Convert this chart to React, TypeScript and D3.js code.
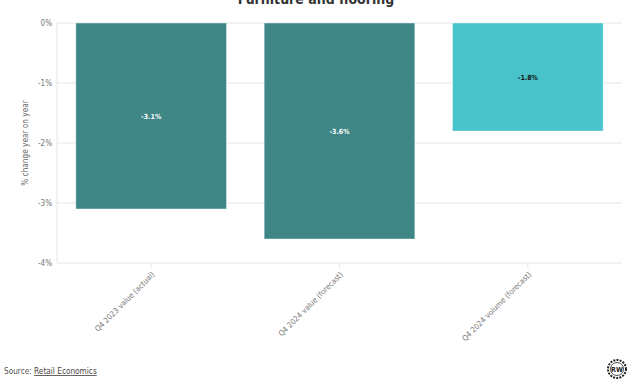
import React from "react";
import * as d3 from "d3";

const categories = ["Q4 2023 value (actual)", "Q4 2024 value (forecast)", "Q4 2024 volume (forecast)"];
const values = [-3.1, -3.6, -1.8];
const barColors = ["#3b8484", "#3b8484", "#44c2c9"];
const labelColors = ["#ffffff", "#ffffff", "#111111"];
const yTicks = [0, -1, -2, -3, -4];
const title = "Furniture and flooring";
const yTitle = "% change year on year";

const W = 632, H = 381;
const m = { left: 57, right: 10, top: 23, bottom: 118 };
const FONT = "'DejaVu Sans Condensed', 'DejaVu Sans', sans-serif";

export default function App() {
  const x = d3.scaleBand<string>().domain(categories).range([m.left, W - m.right]).paddingInner(0.2).paddingOuter(0.1);
  const y = d3.scaleLinear().domain([0, -4]).range([m.top, H - m.bottom]);
  return (
    <svg width={W} height={H} style={{ position: "absolute", left: 0, top: 0, background: "#fff" }} fontFamily={FONT}>
      <text x={W / 2} y={4} textAnchor="middle" fontSize={14} fontWeight={600} fill="#333">{title}</text>
      {yTicks.map((t) => (
        <g key={t}>
          <line x1={m.left} x2={W - m.right} y1={y(t)} y2={y(t)} stroke="#e6e6e6" strokeWidth={1} />
          <text x={m.left - 5} y={y(t) + 3} textAnchor="end" fontSize={8} fill="#777">{t === 0 ? "0%" : `${t}%`}</text>
        </g>
      ))}
      <line x1={m.left} x2={m.left} y1={m.top} y2={y(-4)} stroke="#e6e6e6" />
      {categories.map((c, i) => {
        const y0 = y(0), y1 = y(values[i]);
        const bx = x(c)!;
        return (
          <g key={c}>
            <rect x={bx} y={y0} width={x.bandwidth()} height={y1 - y0} fill={barColors[i]} fillOpacity={0.98} stroke="#ffffff" strokeOpacity={0.4} strokeWidth={1} />
            <text x={bx + x.bandwidth() / 2} y={(y0 + y1) / 2 + 2.5} textAnchor="middle" fontSize={7} fontWeight="bold" fill={labelColors[i]}>{`${values[i].toFixed(1)}%`}</text>
          </g>
        );
      })}
      {categories.map((c) => {
        const cx = x(c)! + x.bandwidth() / 2;
        const ty = y(-4);
        return (
          <g key={c + "t"}>
            <line x1={cx} x2={cx} y1={ty} y2={ty + 5} stroke="#e6e6e6" />
            <text transform={`translate(${cx + 4},${ty + 12}) rotate(-45)`} textAnchor="end" fontSize={7.8} fill="#777">{c}</text>
          </g>
        );
      })}
      <text transform={`translate(28,${(m.top + y(-4)) / 2}) rotate(-90)`} textAnchor="middle" fontSize={8.2} fill="#666">{yTitle}</text>
      <text x={4} y={374} fontSize={8.2} fill="#555">Source: <tspan textDecoration="underline" fill="#444">Retail Economics</tspan></text>
      <g transform="translate(617,369)">
        <circle r={9} fill="#fff" stroke="#222" strokeWidth={2} strokeDasharray="2 1.2" />
        <circle r={6.5} fill="#fff" stroke="#222" strokeWidth={0.8} />
        <text y={2.7} textAnchor="middle" fontSize={7} fontWeight="bold" fill="#222">RW</text>
      </g>
    </svg>
  );
}
